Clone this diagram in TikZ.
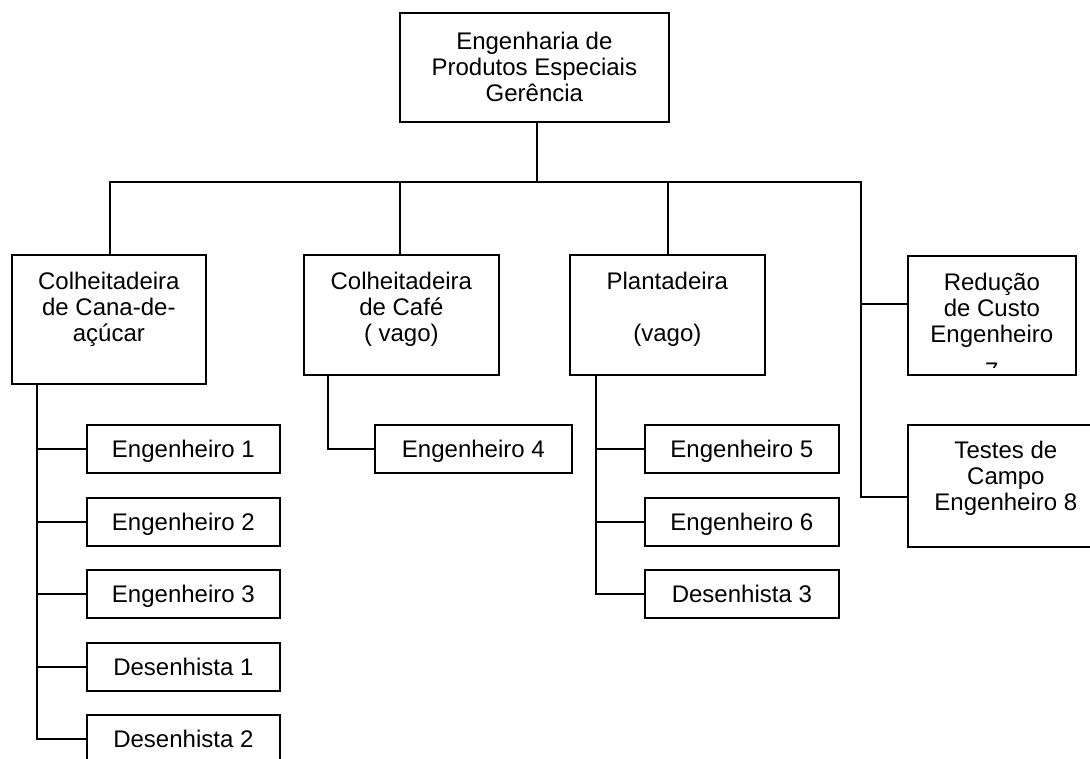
\documentclass[tikz,border=0pt]{standalone}
\usepackage{fontspec}
\setmainfont{Liberation Sans}
% centred lines in a top-aligned box, so the node's base is the first baseline
\newcommand\stacktext[2]{\parbox[t]{#1}{\centering #2}}
\begin{document}
\begin{tikzpicture}[x=1pt,y=-1pt,
  frame/.style={draw, line width=1.7pt, rectangle, inner sep=0pt, anchor=north west},
  boxtext/.style={inner sep=0pt, anchor=base, font=\fontsize{24}{26}\selectfont},
  leaf/.style={frame, minimum width=193pt, minimum height=48pt,
    font=\fontsize{24}{26}\selectfont, text height=17pt, text depth=0pt},
  wire/.style={line width=1.7pt}]
\useasboundingbox (0,0) rectangle (1090,758);
\clip (0,0) rectangle (1090,758);

% management box
\node[frame, minimum width=269pt, minimum height=109pt] (top) at (399,12) {};
\node[boxtext] (topt) at (top.north |- 0,49) {\stacktext{260pt}{Engenharia de\\Produtos Especiais\\Gerência}};

% second level
\node[frame, minimum width=194pt, minimum height=129pt] (cana) at (11,254) {};
\node[boxtext] (canat) at (cana.north |- 0,289) {\stacktext{185pt}{Colheitadeira\\de Cana-de-\\açúcar}};

\node[frame, minimum width=195pt, minimum height=120pt] (cafe) at (303,254) {};
\node[boxtext] (cafet) at (cafe.north |- 0,289) {\stacktext{185pt}{Colheitadeira\\de Café\\( vago)}};

\node[frame, minimum width=195pt, minimum height=120pt] (plant) at (569,254) {};
\node[boxtext] (plantt) at (plant.north |- 0,289) {\stacktext{185pt}{Plantadeira\\\mbox{}\\(vago)}};

\node[frame, minimum width=168pt, minimum height=119pt] (red) at (907,255) {};
\begin{scope}
  % the last line overflows the box and is cut at its inner edge
  \clip (909,257) rectangle (1073,367);
  \node[boxtext] (redt) at (red.north |- 0,290) {\stacktext{160pt}{Redução\\de Custo\\Engenheiro\\[11pt]7}};
\end{scope}

\node[frame, minimum width=196pt, minimum height=122pt] (test) at (907,424) {};
\node[boxtext] (testt) at (test.north |- 0,458) {\stacktext{185pt}{Testes de\\Campo\\Engenheiro 8}};

% third level
\node[leaf] (e1) at (86,424) {Engenheiro 1};
\node[leaf] (e2) at (86,497) {Engenheiro 2};
\node[leaf] (e3) at (86,569) {Engenheiro 3};
\node[leaf] (d1) at (86,642) {Desenhista 1};
\node[leaf] (d2) at (86,714) {Desenhista 2};

\node[leaf, minimum width=197pt] (e4) at (374,424) {Engenheiro 4};

\node[leaf, minimum width=194pt] (e5) at (644,424) {Engenheiro 5};
\node[leaf, minimum width=194pt] (e6) at (644,497) {Engenheiro 6};
\node[leaf, minimum width=194pt] (d3) at (644,569) {Desenhista 3};

% connectors
\coordinate (bus) at (537,182);
\coordinate (rbus) at (861,182);
\coordinate (cv) at (37,0);
\coordinate (fv) at (328,0);
\coordinate (pv) at (596,0);

\draw[wire] (top.south -| bus) -- (bus);
\draw[wire] (cana.north -| 110,0) |- (rbus) -- (rbus |- 0,497) -- (test.west |- 0,497);
\draw[wire] (cafe.north -| 400,0) -- (400,182);
\draw[wire] (plant.north -| 668,0) -- (668,182);
\draw[wire] (red.west |- 0,304) -- (rbus |- 0,304);

\draw[wire] (cana.south -| cv) |- (d2.west);
\foreach \n in {e1,e2,e3,d1} \draw[wire] (\n.west) -- (\n.west -| cv);

\draw[wire] (cafe.south -| fv) |- (e4.west);

\draw[wire] (plant.south -| pv) |- (d3.west);
\foreach \n in {e5,e6} \draw[wire] (\n.west) -- (\n.west -| pv);
\end{tikzpicture}
\end{document}
